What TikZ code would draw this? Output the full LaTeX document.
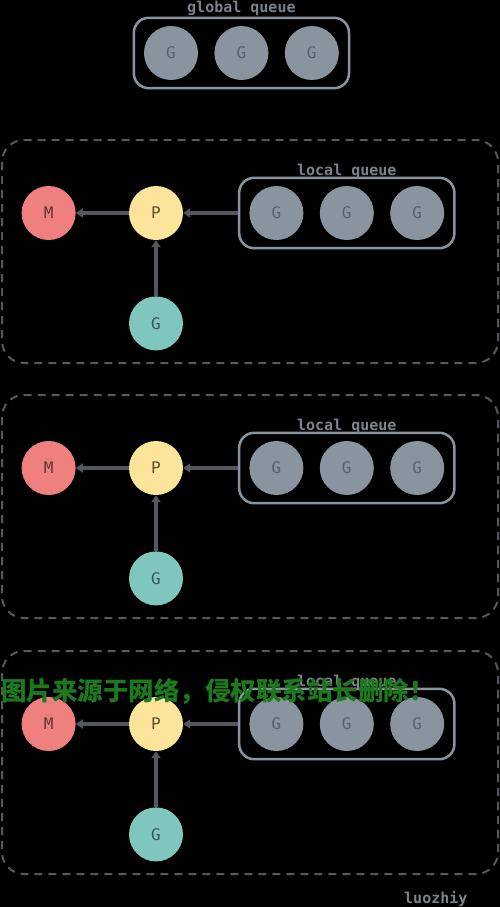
\documentclass[tikz,border=0pt]{standalone}
\usepackage{fontspec}
\setmonofont{DejaVu Sans Mono}
\newfontfamily\cjk{Noto Sans CJK SC}
\usepackage{tikz}
\usetikzlibrary{arrows.meta,positioning,fit}

\definecolor{gfill}{HTML}{8A949E}
\definecolor{gtext}{HTML}{56616B}
\definecolor{mfill}{HTML}{F08080}
\definecolor{pfill}{HTML}{FDE49B}
\definecolor{tfill}{HTML}{7FC6BD}
\definecolor{boxline}{HTML}{8A949C}
\definecolor{dashline}{HTML}{55595E}
\definecolor{arrline}{HTML}{54575D}
\definecolor{labtext}{HTML}{7C8289}
\definecolor{wmark}{HTML}{1C7A1C}

\begin{document}
\begin{tikzpicture}[x=1pt, y={(0,-1pt)}, font=\ttfamily]
        \tikzset{ball/.style={circle, minimum size=54pt, inner sep=0pt, font=\ttfamily\fontsize{16}{16}\selectfont}}
        \tikzset{gor/.style={ball, fill=gfill, text=gtext}}
        \tikzset{mach/.style={ball, fill=mfill, text=mfill!40!black}}
        \tikzset{proc/.style={ball, fill=pfill, text=pfill!35!black}}
        \tikzset{run/.style={ball, fill=tfill, text=tfill!45!black}}
        \tikzset{queuebox/.style={draw=boxline, line width=2.5pt, rounded corners=15pt, inner xsep=10pt, inner ysep=8pt}}
        \tikzset{qlabel/.style={text=labtext, font=\ttfamily\bfseries\fontsize{15}{15}\selectfont, inner sep=0pt}}
        \tikzset{arr/.style={-{Triangle[length=7pt,width=9pt]}, draw=arrline, line width=3.5pt}}
        \tikzset{panel/.style={draw=dashline, line width=2pt, dash pattern=on 8pt off 6pt, rounded corners=22pt}}

        \fill[black] (0,0) rectangle (500,907);
        \useasboundingbox (0,0) rectangle (500,907);

        % global queue
        \node [gor] (gq1) at (171,53) {G};
        \node [gor, right=16pt of gq1] (gq2) {G};
        \node [gor, right=16pt of gq2] (gq3) {G};
        \node [queuebox, fit=(gq1)(gq3)] (gq) {};
        \node [qlabel, anchor=base] at (gq.north |- 0,13) {global queue};

        % one M/P/G panel each
        \foreach \i/\dy in {1/0,2/255,3/511}{
            \draw [panel] (2,140+\dy) rectangle (498,363+\dy);
            \node [proc] (p\i) at (156,213+\dy) {P};
            \node [mach, left=53pt of p\i] (m\i) {M};
            \node [run, below=56pt of p\i] (g\i) {G};
            \node [gor, right=66pt of p\i] (lq\i a) {G};
            \node [gor, right=16pt of lq\i a] (lq\i b) {G};
            \node [gor, right=16pt of lq\i b] (lq\i c) {G};
            \node [queuebox, fit=(lq\i a)(lq\i c)] (lq\i) {};
            \node [qlabel, anchor=base] at (lq\i.north |- 0,175+\dy) {local queue};

            \draw [arr] (lq\i.west) -- (p\i.east);
            \draw [arr] (p\i.west) -- (m\i.east);
            \draw [arr] (g\i.north) -- (p\i.south);
        }

        \node [qlabel, anchor=base west] (sig) at (404,903) {luozhiy};
        \node [text=wmark, font=\cjk\bfseries\fontsize{25.5}{25.5}\selectfont, anchor=west, inner sep=0pt] (wm) at (1,691) {图片来源于网络，侵权联系站长删除！};
    \end{tikzpicture}
\end{document}
